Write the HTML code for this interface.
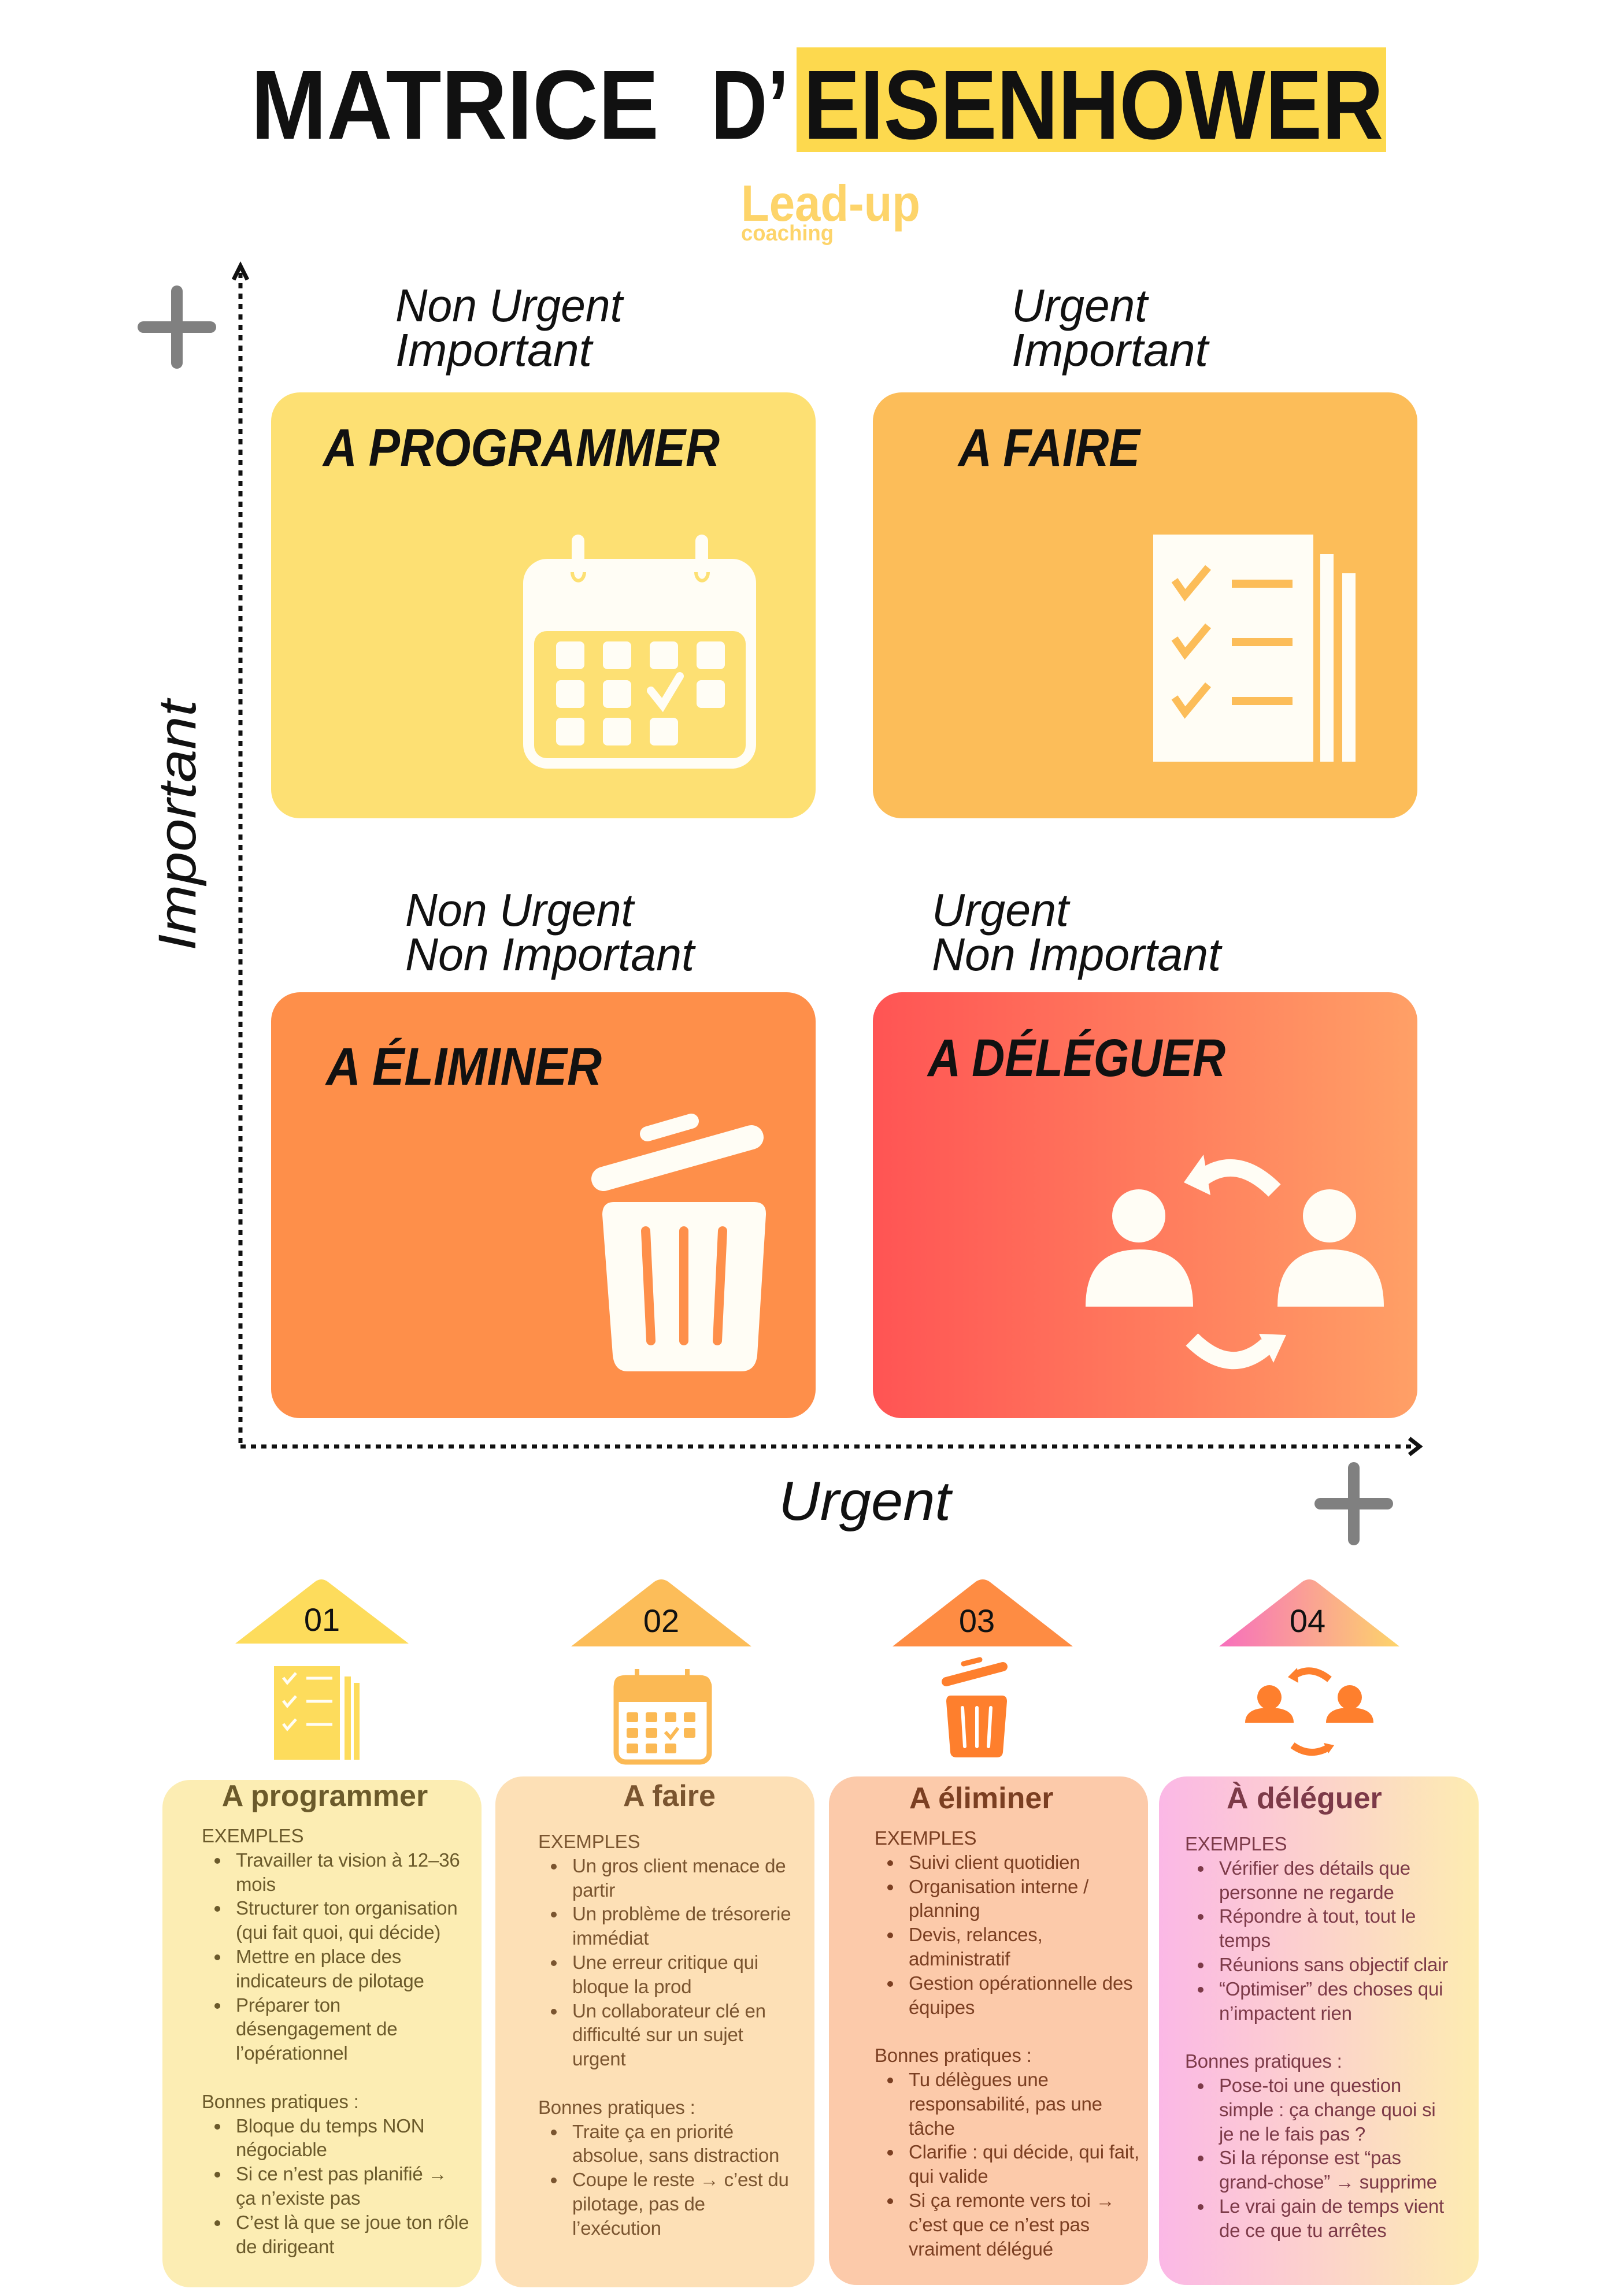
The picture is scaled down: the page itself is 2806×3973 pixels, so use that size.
<!DOCTYPE html>
<html><head><meta charset="utf-8">
<style>
html,body{margin:0;padding:0;background:#fff;}
body{width:2806px;height:3973px;position:relative;overflow:hidden;font-family:"Liberation Sans",sans-serif;}
svg{position:absolute;left:0;top:0;}
.card{position:absolute;border-radius:48px;}
.ct{position:absolute;font-weight:bold;font-size:52px;text-align:center;white-space:nowrap;}
.tx{position:absolute;font-size:33px;line-height:41.8px;white-space:nowrap;letter-spacing:-0.2px;}
.tx div{height:41.8px;}
.tx .b,.tx .c{padding-left:59px;position:relative;}
.tx .b::before{content:"";position:absolute;left:22px;top:17px;width:10px;height:10px;border-radius:50%;background:currentColor;}
</style></head><body>
<svg width="2806" height="3973" viewBox="0 0 2806 3973">
<defs>
<linearGradient id="gbr" x1="0" x2="1" y1="0" y2="0"><stop offset="0" stop-color="#ff5454"/><stop offset="1" stop-color="#ffa066"/></linearGradient>
<linearGradient id="g4" x1="0" x2="1" y1="0" y2="0"><stop offset="0" stop-color="#f76fbd"/><stop offset="1" stop-color="#fdd46a"/></linearGradient>
</defs>
<!-- title -->
<rect x="1378" y="82" width="1020" height="181" fill="#fdd94e"/>
<g font-family="Liberation Sans" font-weight="bold" font-size="170" fill="#111">
<text x="434" y="240" textLength="706" lengthAdjust="spacingAndGlyphs">MATRICE</text>
<text x="1230" y="240" textLength="135" lengthAdjust="spacingAndGlyphs">D’</text>
<text x="1390" y="240" textLength="1003" lengthAdjust="spacingAndGlyphs">EISENHOWER</text>
</g>
<!-- logo -->
<text x="1282" y="382" font-family="Liberation Sans" font-weight="bold" font-size="88" textLength="310" lengthAdjust="spacingAndGlyphs" fill="#fdd46a">Lead-up</text>
<text x="1282" y="416" font-family="Liberation Sans" font-weight="bold" font-size="38" textLength="160" lengthAdjust="spacingAndGlyphs" fill="#fdd46a">coaching</text>
<!-- axes -->
<line x1="416" y1="472" x2="416" y2="2503" stroke="#111" stroke-width="7" stroke-dasharray="9 9"/>
<polyline points="404,484 416,460 428,484" fill="none" stroke="#111" stroke-width="7"/>
<line x1="416" y1="2503" x2="2448" y2="2503" stroke="#111" stroke-width="7" stroke-dasharray="9 9"/>
<polyline points="2438,2489 2456,2503 2438,2517" fill="none" stroke="#111" stroke-width="7"/>
<g stroke="#808080" stroke-width="20" stroke-linecap="round">
<line x1="306" y1="504" x2="306" y2="628"/><line x1="248" y1="566" x2="364" y2="566"/>
<line x1="2342" y1="2540" x2="2342" y2="2664"/><line x1="2284" y1="2602" x2="2400" y2="2602"/>
</g>
<text transform="translate(338,1645) rotate(-90)" font-family="Liberation Sans" font-style="italic" font-size="92" textLength="434" lengthAdjust="spacingAndGlyphs" fill="#111">Important</text>
<text x="1347" y="2630" font-family="Liberation Sans" font-style="italic" font-size="96" textLength="298" lengthAdjust="spacingAndGlyphs" fill="#111">Urgent</text>
<!-- quadrant labels -->
<g font-family="Liberation Sans" font-style="italic" font-size="80" fill="#111">
<text x="684" y="556" textLength="393" lengthAdjust="spacingAndGlyphs">Non Urgent</text>
<text x="684" y="633" textLength="340" lengthAdjust="spacingAndGlyphs">Important</text>
<text x="1750" y="556" textLength="235" lengthAdjust="spacingAndGlyphs">Urgent</text>
<text x="1750" y="633" textLength="340" lengthAdjust="spacingAndGlyphs">Important</text>
<text x="701" y="1602" textLength="395" lengthAdjust="spacingAndGlyphs">Non Urgent</text>
<text x="701" y="1679" textLength="500" lengthAdjust="spacingAndGlyphs">Non Important</text>
<text x="1612" y="1602" textLength="237" lengthAdjust="spacingAndGlyphs">Urgent</text>
<text x="1612" y="1679" textLength="500" lengthAdjust="spacingAndGlyphs">Non Important</text>
</g>
<!-- boxes -->
<rect x="469" y="679" width="942" height="737" rx="50" fill="#fde073"/>
<rect x="1510" y="679" width="942" height="737" rx="50" fill="#fcbd59"/>
<rect x="469" y="1717" width="942" height="737" rx="50" fill="#fe8f4a"/>
<rect x="1510" y="1717" width="942" height="737" rx="50" fill="url(#gbr)"/>
<g font-family="Liberation Sans" font-style="italic" font-weight="bold" font-size="92" fill="#111">
<text x="559" y="806" textLength="686" lengthAdjust="spacingAndGlyphs">A PROGRAMMER</text>
<text x="1658" y="806" textLength="314" lengthAdjust="spacingAndGlyphs">A FAIRE</text>
<text x="564" y="1877" textLength="477" lengthAdjust="spacingAndGlyphs">A ÉLIMINER</text>
<text x="1605" y="1862" textLength="515" lengthAdjust="spacingAndGlyphs">A DÉLÉGUER</text>
</g>
<!-- calendar icon -->
<g>
<rect x="905" y="967" width="403" height="363" rx="42" fill="#fffdf5"/>
<rect x="924" y="1092" width="366" height="220" rx="22" fill="#fde073"/>
<g fill="#fffdf5">
<rect x="962" y="1110" width="49" height="48" rx="8"/><rect x="1043" y="1110" width="49" height="48" rx="8"/><rect x="1124" y="1110" width="49" height="48" rx="8"/><rect x="1205" y="1110" width="49" height="48" rx="8"/>
<rect x="962" y="1177" width="49" height="48" rx="8"/><rect x="1043" y="1177" width="49" height="48" rx="8"/><rect x="1205" y="1177" width="49" height="48" rx="8"/>
<rect x="962" y="1242" width="49" height="48" rx="8"/><rect x="1043" y="1242" width="49" height="48" rx="8"/><rect x="1124" y="1242" width="49" height="48" rx="8"/>
</g>
<polyline points="1126,1195 1146,1220 1176,1170" fill="none" stroke="#fffdf5" stroke-width="14" stroke-linecap="round"/>
<rect x="989" y="925" width="22" height="90" rx="11" fill="#fffdf5"/>
<rect x="1203" y="925" width="22" height="90" rx="11" fill="#fffdf5"/>
<path d="M990,990 a10,14 0 0 0 21,0" fill="none" stroke="#fde073" stroke-width="6"/>
<path d="M1204,990 a10,14 0 0 0 21,0" fill="none" stroke="#fde073" stroke-width="6"/>
</g>
<!-- checklist icon -->
<g>
<rect x="1995" y="925" width="277" height="393" fill="#fffdf5"/>
<rect x="2284" y="959" width="23" height="359" fill="#fffdf5"/>
<rect x="2322" y="992" width="23" height="326" fill="#fffdf5"/>
<g fill="none" stroke="#fcbd59" stroke-width="13">
<polyline points="2032,1004 2050,1030 2090,982"/>
<polyline points="2032,1105 2050,1131 2090,1083"/>
<polyline points="2032,1207 2050,1233 2090,1185"/>
</g>
<g stroke="#fcbd59" stroke-width="14">
<line x1="2131" y1="1010" x2="2236" y2="1010"/><line x1="2131" y1="1111" x2="2236" y2="1111"/><line x1="2131" y1="1213" x2="2236" y2="1213"/>
</g>
</g>
<!-- trash icon -->
<g>
<path d="M1062,2080 H1305 Q1326,2080 1325,2102 L1310,2345 Q1307,2373 1282,2373 H1086 Q1063,2373 1060,2345 L1042,2102 Q1042,2080 1062,2080 Z" fill="#fffdf5"/>
<g stroke="#fe8f4a" stroke-width="16" stroke-linecap="round">
<line x1="1117" y1="2130" x2="1126" y2="2320"/><line x1="1183" y1="2130" x2="1183" y2="2320"/><line x1="1250" y1="2130" x2="1241" y2="2320"/>
</g>
<line x1="1044" y1="2040" x2="1300" y2="1968" stroke="#fffdf5" stroke-width="42" stroke-linecap="round"/>
<line x1="1120" y1="1962" x2="1196" y2="1940" stroke="#fffdf5" stroke-width="26" stroke-linecap="round"/>
</g>
<!-- delegate icon -->
<g fill="#fffdf5">
<ellipse cx="1970" cy="2104" rx="46" ry="46"/>
<path d="M1878,2261 Q1878,2162 1971,2162 Q2064,2162 2064,2261 Z"/>
<ellipse cx="2300" cy="2104" rx="46" ry="46"/>
<path d="M2210,2261 Q2210,2162 2302,2162 Q2394,2162 2394,2261 Z"/>
<path d="M2205,2060 Q2140,1995 2080,2038" fill="none" stroke="#fffdf5" stroke-width="30"/>
<polygon points="2048,2046 2082,1998 2094,2068"/>
<path d="M2062,2318 Q2130,2385 2192,2328" fill="none" stroke="#fffdf5" stroke-width="30"/>
<polygon points="2225,2310 2178,2308 2203,2358"/>
</g>
<!-- bottom triangles -->
<g font-family="Liberation Sans" font-size="56" text-anchor="middle" fill="#111">
<path d="M407,2844 L545,2737 Q556,2729 567,2737 L707,2844 Z" fill="#fddc5c"/>
<text x="557" y="2822">01</text>
<path d="M988,2849 L1132,2737 Q1144,2729 1156,2737 L1300,2849 Z" fill="#fcbd59"/>
<text x="1144" y="2824">02</text>
<path d="M1544,2849 L1688,2737 Q1700,2729 1712,2737 L1856,2849 Z" fill="#fe8c43"/>
<text x="1690" y="2824">03</text>
<path d="M2109,2849 L2253,2737 Q2265,2729 2277,2737 L2421,2849 Z" fill="url(#g4)"/>
<text x="2262" y="2824">04</text>
</g>
<!-- small icons -->
<g>
<rect x="474" y="2883" width="114" height="162" fill="#fddc5c"/>
<rect x="596" y="2901" width="11" height="144" fill="#fddc5c"/>
<rect x="612" y="2912" width="10" height="133" fill="#fddc5c"/>
<g fill="none" stroke="#fffdf5" stroke-width="5"><polyline points="490,2903 497,2912 512,2895"/><polyline points="490,2943 497,2952 512,2935"/><polyline points="490,2983 497,2992 512,2975"/></g>
<g stroke="#fffdf5" stroke-width="5"><line x1="530" y1="2904" x2="575" y2="2904"/><line x1="530" y1="2944" x2="575" y2="2944"/><line x1="530" y1="2984" x2="575" y2="2984"/></g>
</g>
<g>
<rect x="1066" y="2903" width="161" height="146" rx="16" fill="none" stroke="#fbb954" stroke-width="9"/>
<path d="M1062,2916 Q1062,2899 1080,2899 H1212 Q1230,2899 1230,2916 V2945 H1062 Z" fill="#fbb954"/>
<g fill="#fbb954">
<rect x="1084" y="2963" width="20" height="17" rx="3"/><rect x="1117" y="2963" width="20" height="17" rx="3"/><rect x="1150" y="2963" width="20" height="17" rx="3"/><rect x="1183" y="2963" width="20" height="17" rx="3"/>
<rect x="1084" y="2990" width="20" height="17" rx="3"/><rect x="1117" y="2990" width="20" height="17" rx="3"/><rect x="1183" y="2990" width="20" height="17" rx="3"/>
<rect x="1084" y="3017" width="20" height="17" rx="3"/><rect x="1117" y="3017" width="20" height="17" rx="3"/><rect x="1150" y="3017" width="20" height="17" rx="3"/>
<rect x="1098" y="2888" width="8" height="30"/><rect x="1185" y="2888" width="8" height="30"/>
</g>
<polyline points="1151,2997 1160,3007 1173,2990" fill="none" stroke="#fbb954" stroke-width="6"/>
</g>
<g>
<path d="M1645,2934 H1733 Q1742,2934 1742,2944 L1735,3032 Q1734,3041 1724,3041 H1655 Q1645,3041 1644,3032 L1637,2944 Q1637,2934 1645,2934 Z" fill="#fe7f2d"/>
<g stroke="#fff" stroke-width="6" stroke-linecap="round"><line x1="1665" y1="2955" x2="1669" y2="3022"/><line x1="1690" y1="2955" x2="1690" y2="3022"/><line x1="1714" y1="2955" x2="1710" y2="3022"/></g>
<line x1="1637" y1="2910" x2="1735" y2="2884" stroke="#fe7f2d" stroke-width="16" stroke-linecap="round"/>
<line x1="1667" y1="2879" x2="1695" y2="2872" stroke="#fe7f2d" stroke-width="9" stroke-linecap="round"/>
</g>
<g fill="#fe7f2d">
<circle cx="2196" cy="2937" r="21"/>
<path d="M2154,2981 Q2154,2955 2196,2955 Q2238,2955 2238,2981 Z"/>
<circle cx="2335" cy="2937" r="21"/>
<path d="M2294,2981 Q2294,2955 2335,2955 Q2376,2955 2376,2981 Z"/>
<path d="M2300,2906 Q2268,2880 2238,2900" fill="none" stroke="#fe7f2d" stroke-width="12"/>
<polygon points="2228,2902 2244,2886 2246,2912"/>
<path d="M2236,3020 Q2266,3042 2298,3024" fill="none" stroke="#fe7f2d" stroke-width="12"/>
<polygon points="2308,3020 2290,3016 2298,3034"/>
</g>
</svg>

<!-- cards -->
<div class="card" style="left:281px;top:3080px;width:552px;height:878px;background:#fcedb3;"></div>
<div class="card" style="left:857px;top:3074px;width:552px;height:884px;background:#fde0b6;"></div>
<div class="card" style="left:1434px;top:3074px;width:552px;height:880px;background:#fccaaa;"></div>
<div class="card" style="left:2005px;top:3074px;width:553px;height:880px;background:linear-gradient(90deg,#fbb8e6,#fdecb1);"></div>

<div class="ct" style="left:281px;width:562px;top:3078px;color:#6b5a2b;">A programmer</div>
<div class="ct" style="left:857px;width:602px;top:3078px;color:#7a5530;">A faire</div>
<div class="ct" style="left:1573px;top:3082px;color:#7b3f22;">A éliminer</div>
<div class="ct" style="left:2122px;top:3082px;color:#7c3a48;">À déléguer</div>

<div class="tx" style="left:349px;top:3156px;color:#6b5a2b;">
<div>EXEMPLES</div>
<div class="b">Travailler ta vision à 12–36</div><div class="c">mois</div>
<div class="b">Structurer ton organisation</div><div class="c">(qui fait quoi, qui décide)</div>
<div class="b">Mettre en place des</div><div class="c">indicateurs de pilotage</div>
<div class="b">Préparer ton</div><div class="c">désengagement de</div><div class="c">l’opérationnel</div>
<div></div>
<div>Bonnes pratiques :</div>
<div class="b">Bloque du temps NON</div><div class="c">négociable</div>
<div class="b">Si ce n’est pas planifié →</div><div class="c">ça n’existe pas</div>
<div class="b">C’est là que se joue ton rôle</div><div class="c">de dirigeant</div>
</div>

<div class="tx" style="left:931px;top:3166px;color:#7a5530;">
<div>EXEMPLES</div>
<div class="b">Un gros client menace de</div><div class="c">partir</div>
<div class="b">Un problème de trésorerie</div><div class="c">immédiat</div>
<div class="b">Une erreur critique qui</div><div class="c">bloque la prod</div>
<div class="b">Un collaborateur clé en</div><div class="c">difficulté sur un sujet</div><div class="c">urgent</div>
<div></div>
<div>Bonnes pratiques :</div>
<div class="b">Traite ça en priorité</div><div class="c">absolue, sans distraction</div>
<div class="b">Coupe le reste → c’est du</div><div class="c">pilotage, pas de</div><div class="c">l’exécution</div>
</div>

<div class="tx" style="left:1513px;top:3160px;color:#7b3f22;">
<div>EXEMPLES</div>
<div class="b">Suivi client quotidien</div>
<div class="b">Organisation interne /</div><div class="c">planning</div>
<div class="b">Devis, relances,</div><div class="c">administratif</div>
<div class="b">Gestion opérationnelle des</div><div class="c">équipes</div>
<div></div>
<div>Bonnes pratiques :</div>
<div class="b">Tu délègues une</div><div class="c">responsabilité, pas une</div><div class="c">tâche</div>
<div class="b">Clarifie : qui décide, qui fait,</div><div class="c">qui valide</div>
<div class="b">Si ça remonte vers toi →</div><div class="c">c’est que ce n’est pas</div><div class="c">vraiment délégué</div>
</div>

<div class="tx" style="left:2050px;top:3170px;color:#7c3a48;">
<div>EXEMPLES</div>
<div class="b">Vérifier des détails que</div><div class="c">personne ne regarde</div>
<div class="b">Répondre à tout, tout le</div><div class="c">temps</div>
<div class="b">Réunions sans objectif clair</div>
<div class="b">“Optimiser” des choses qui</div><div class="c">n’impactent rien</div>
<div></div>
<div>Bonnes pratiques :</div>
<div class="b">Pose-toi une question</div><div class="c">simple : ça change quoi si</div><div class="c">je ne le fais pas ?</div>
<div class="b">Si la réponse est “pas</div><div class="c">grand-chose” → supprime</div>
<div class="b">Le vrai gain de temps vient</div><div class="c">de ce que tu arrêtes</div>
</div>
</body></html>
